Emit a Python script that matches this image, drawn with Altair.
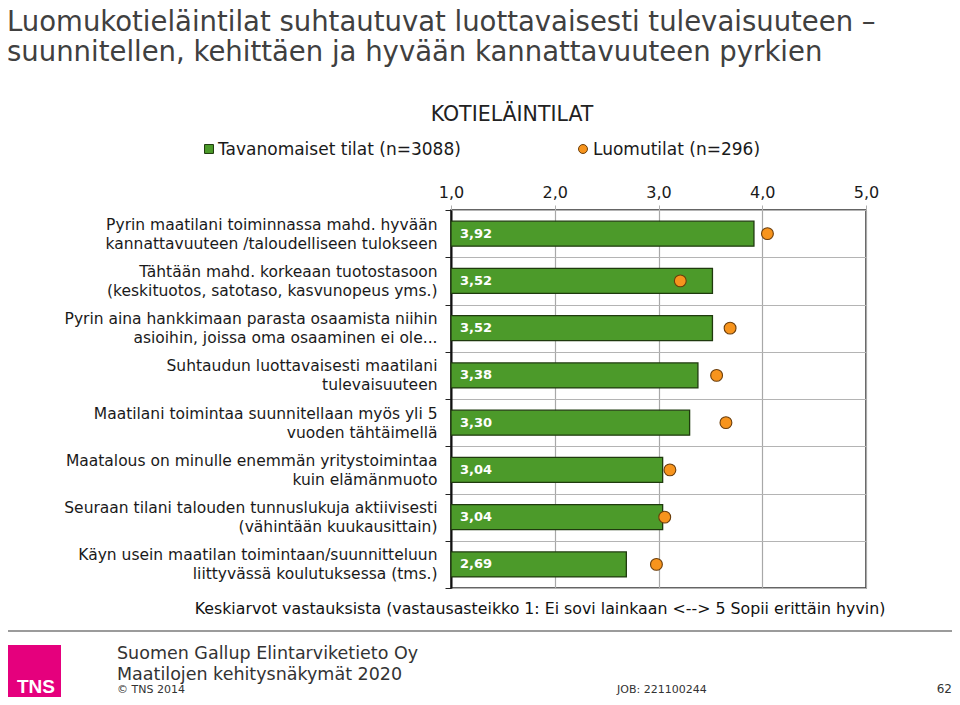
import altair as alt
import pandas as pd

# ---- data ----
categories = [
    "Pyrin maatilani toiminnassa mahd. hyvään|kannattavuuteen /taloudelliseen tulokseen",
    "Tähtään mahd. korkeaan tuotostasoon|(keskituotos, satotaso, kasvunopeus yms.)",
    "Pyrin aina hankkimaan parasta osaamista niihin|asioihin, joissa oma osaaminen ei ole...",
    "Suhtaudun luottavaisesti maatilani|tulevaisuuteen",
    "Maatilani toimintaa suunnitellaan myös yli 5|vuoden tähtäimellä",
    "Maatalous on minulle enemmän yritystoimintaa|kuin elämänmuoto",
    "Seuraan tilani talouden tunnuslukuja aktiivisesti|(vähintään kuukausittain)",
    "Käyn usein maatilan toimintaan/suunnitteluun|liittyvässä koulutuksessa (tms.)",
]
conventional = [3.92, 3.52, 3.52, 3.38, 3.30, 3.04, 3.04, 2.69]
organic = [4.05, 3.21, 3.69, 3.56, 3.65, 3.11, 3.06, 2.98]
x_ticks = [1, 2, 3, 4, 5]

series_names = ["Tavanomaiset tilat (n=3088)", "Luomutilat (n=296)"]
chart_title = [
    "Luomukotieläintilat suhtautuvat luottavaisesti tulevaisuuteen –",
    "suunnitellen, kehittäen ja hyvään kannattavuuteen pyrkien",
]
panel_title = "KOTIELÄINTILAT"
caption = "Keskiarvot vastauksista (vastausasteikko 1: Ei sovi lainkaan <--> 5 Sopii erittäin hyvin)"
footer_lines = ["Suomen Gallup Elintarviketieto Oy", "Maatilojen kehitysnäkymät 2020"]
footer_small = ["© TNS 2014", "JOB: 221100244", "62"]

df = pd.DataFrame({"cat": categories, "conv": conventional, "org": organic})

FONT = "DejaVu Sans"
GREEN = "#4C9A2A"
ORANGE = "#F7941D"
TXT = "#1a1a1a"

W, H = 415, 378

y_enc = alt.Y(
    "cat:N",
    sort=categories,
    scale=alt.Scale(paddingInner=0, paddingOuter=0),
    axis=alt.Axis(
        title=None,
        labelExpr="split(datum.label, '|')",
        labelAlign="right",
        labelFontSize=15.5,
        labelLineHeight=19,
        labelOffset=-9.5,
        labelColor=TXT,
        labelFont=FONT,
        labelLimit=0,
        labelPadding=8,
        tickBand="extent",
        grid=True,
        gridColor="#b4b4b4",
        gridWidth=1.2,
        tickColor="#222",
        tickSize=6,
        domainColor="#111",
        domainWidth=2,
    ),
)

x_scale = alt.Scale(domain=[1, 5], nice=False, zero=False)
x_axis = alt.Axis(
    orient="top",
    values=x_ticks,
    labelExpr="replace(format(datum.value, '.1f'), '.', ',')",
    labelFlush=False,
    title=None,
    grid=True,
    gridColor="#a8a8a8",
    gridWidth=1.2,
    tickColor="#b0b0b0",
    tickSize=5,
    labelFontSize=16,
    labelFont=FONT,
    labelColor=TXT,
    labelPadding=5,
    domain=False,
)

bars = alt.Chart(df).mark_bar(
    size=25, color=GREEN, stroke="#1f3a0e", strokeWidth=1.3
).encode(
    x=alt.X("conv:Q", scale=x_scale, axis=x_axis),
    x2=alt.datum(1),
    y=y_enc,
)

bar_labels = alt.Chart(df).transform_calculate(
    lbl="replace(format(datum.conv, '.2f'), '.', ',')"
).mark_text(
    align="left", baseline="middle", dx=9, fontWeight="bold", fontSize=13,
    color="white", font=FONT
).encode(
    x=alt.datum(1),
    y=alt.Y("cat:N", sort=categories),
    text="lbl:N",
)

points = alt.Chart(df).mark_point(
    filled=True, size=140, fill=ORANGE, stroke="#6b3d0a", strokeWidth=1.1, opacity=1
).encode(
    x=alt.X("org:Q"),
    y=alt.Y("cat:N", sort=categories),
)


def txt(s, x, y, size, align="left", color=TXT, weight="normal", font=FONT):
    return alt.Chart(pd.DataFrame({"t": [s]})).mark_text(
        align=align, baseline="alphabetic", fontSize=size, color=color,
        fontWeight=weight, font=font
    ).encode(x=alt.value(x), y=alt.value(y), text="t:N")


# titles / legend / caption / footer (positions relative to plot origin)
layers = [bars, bar_labels, points]
layers.append(txt(chart_title[0], -444, -179, 27.5, color="#404040"))
layers.append(txt(chart_title[1], -444, -149, 27.5, color="#404040"))
layers.append(txt(panel_title, 61, -89, 20.5, align="center", color="#222"))

leg_sq = alt.Chart(pd.DataFrame({"s": [series_names[0]]})).mark_point(
    shape="square", filled=True, size=80, fill=GREEN, stroke="#1f3a0e",
    strokeWidth=1, opacity=1
).encode(x=alt.value(-242), y=alt.value(-61))
leg_dot = alt.Chart(pd.DataFrame({"s": [series_names[1]]})).mark_point(
    shape="circle", filled=True, size=80, fill=ORANGE, stroke="#6b3d0a",
    strokeWidth=1, opacity=1
).encode(x=alt.value(132), y=alt.value(-61))
layers += [leg_sq, leg_dot]
layers.append(txt(series_names[0], -233, -55, 17))
layers.append(txt(series_names[1], 142, -55, 17))

layers.append(txt(caption, 89, 404, 15.8, align="center", color="#111"))

rule = alt.Chart(pd.DataFrame({"a": [0]})).mark_rule(
    color="#7a7a7a", strokeWidth=1.5
).encode(x=alt.value(-446), x2=alt.value(501), y=alt.value(421))
logo = alt.Chart(pd.DataFrame({"a": [0]})).mark_rect(
    color="#E5007D"
).encode(x=alt.value(-447), x2=alt.value(-390), y=alt.value(435), y2=alt.value(492))
layers += [rule, logo]
layers.append(txt("TNS", -415, 483, 19, align="center", color="white",
                  weight="bold", font="Liberation Sans"))
layers.append(txt(footer_lines[0], -334, 449, 17.5, color="#333"))
layers.append(txt(footer_lines[1], -334, 470, 17.5, color="#333"))
layers.append(txt(footer_small[0], -334, 483, 11, color="#333"))
layers.append(txt(footer_small[1], 166, 483, 11, color="#333"))
layers.append(txt(footer_small[2], 501, 483, 12, align="right", color="#333"))

chart = alt.layer(*layers).properties(
    width=W,
    height=H,
    autosize=alt.AutoSizeParams(type="none"),
    padding={"left": 443, "top": 202, "right": 86, "bottom": 109},
    background="white",
).configure_view(stroke="#333", strokeWidth=1.5)

chart.save("out.html", embed_options={"renderer": "svg", "actions": False})
